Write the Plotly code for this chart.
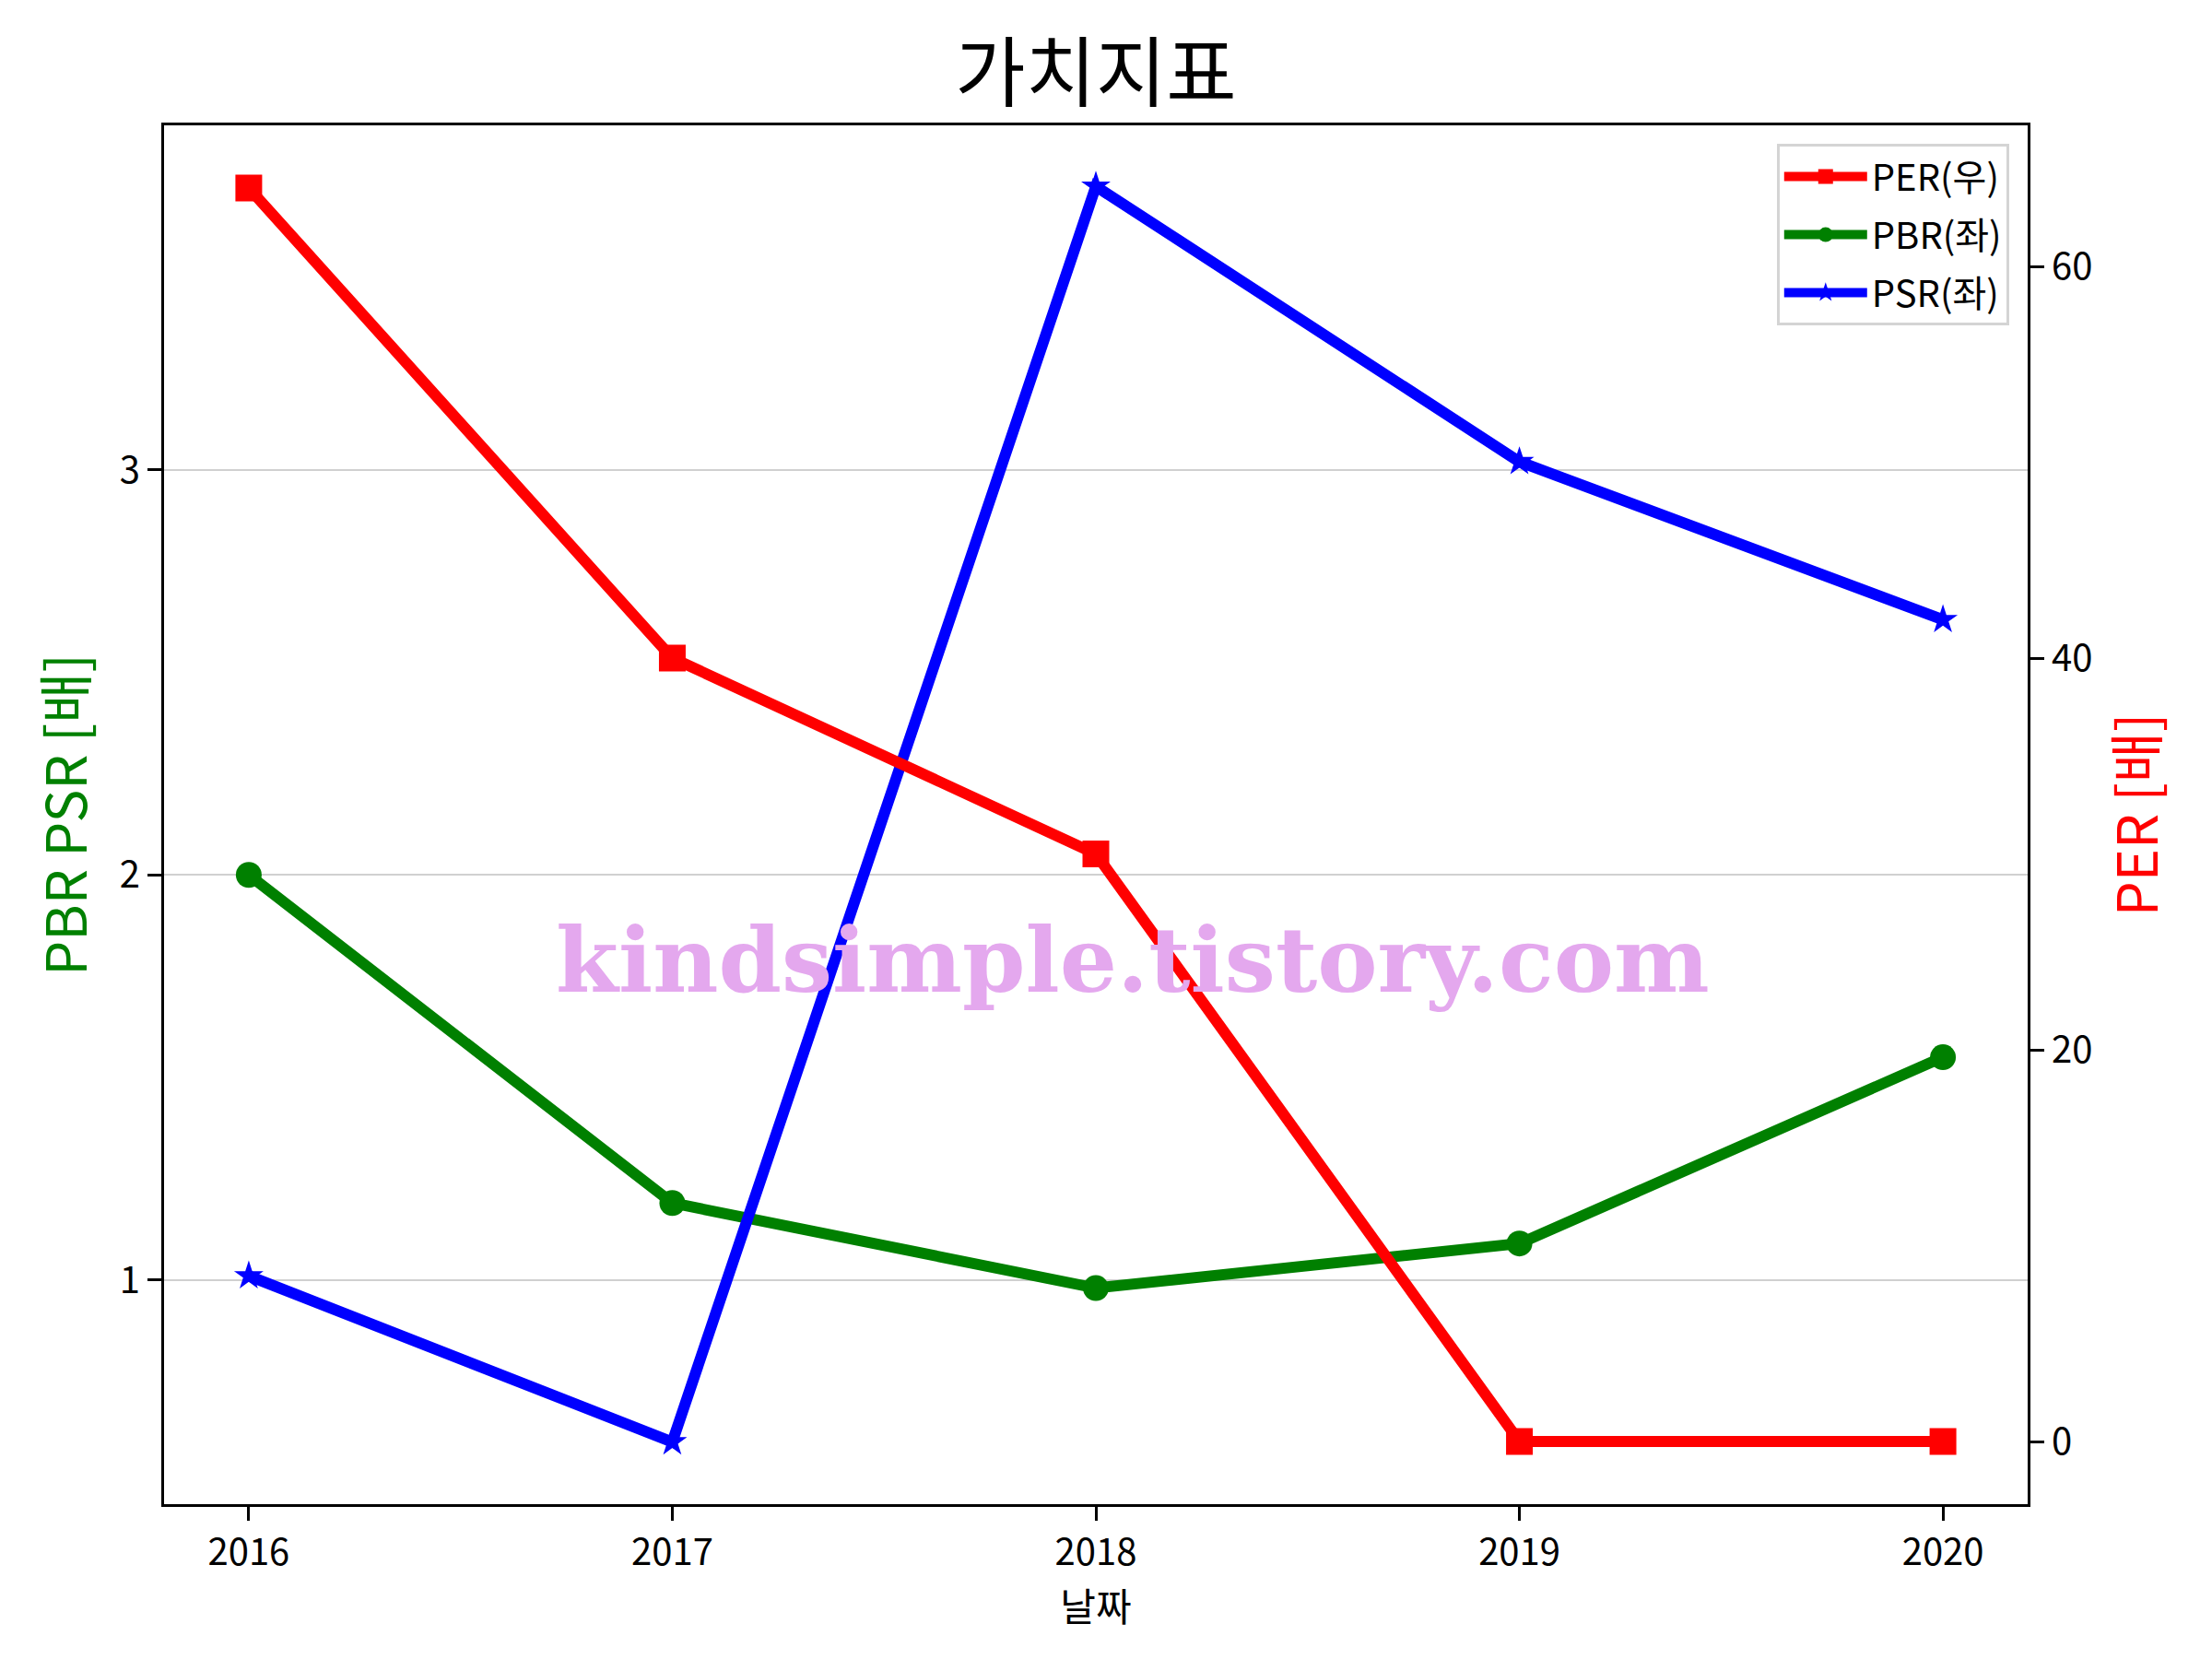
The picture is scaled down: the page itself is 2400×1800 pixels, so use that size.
import plotly.graph_objects as go

years = [2016, 2017, 2018, 2019, 2020]
per = [64.0, 40.0, 30.0, 0.0, 0.0]
pbr = [2.0, 1.19, 0.98, 1.09, 1.55]
psr = [1.01, 0.60, 3.70, 3.02, 2.63]

left_ticks = [1, 2, 3]
right_ticks = [0, 20, 40, 60]

FONT = "Noto Sans CJK KR"

fig = go.Figure()
fig.add_trace(go.Scatter(
    x=years, y=per, name="PER(우)", yaxis="y2", mode="lines+markers",
    legendgroup="per",
    line=dict(color="#ff0000", width=12),
    marker=dict(symbol="square", size=29, color="#ff0000"),
))
fig.add_trace(go.Scatter(
    x=years, y=pbr, name="PBR(좌)", mode="lines+markers",
    legendgroup="pbr",
    line=dict(color="#008000", width=12),
    marker=dict(symbol="circle", size=28, color="#008000"),
))
fig.add_trace(go.Scatter(
    x=years, y=psr, name="PSR(좌)", mode="lines+markers",
    legendgroup="psr",
    line=dict(color="#0000ff", width=12),
    marker=dict(symbol="star", size=24, color="#0000ff"),
))

axis_common = dict(
    showline=True, linecolor="black", linewidth=3,
    ticks="outside", ticklen=15, tickwidth=3, tickcolor="black",
    tickfont=dict(family=FONT, size=40, color="black"),
    zeroline=False,
)

fig.update_layout(
    width=2400, height=1800,
    paper_bgcolor="white", plot_bgcolor="white",
    margin=dict(l=170, r=208, t=128, b=176, autoexpand=False),
    font=dict(family=FONT, size=40, color="black"),
    title=dict(text="가치지표", x=0.5, xref="paper", xanchor="center",
               y=1 - 72 / 1800, yref="container", yanchor="middle",
               font=dict(family=FONT, size=83, color="black")),
    xaxis=dict(
        range=[2015.8, 2020.2], tickvals=years, ticktext=[str(y) for y in years],
        mirror=True, showgrid=False,
        title=dict(text="날짜", font=dict(family=FONT, size=42, color="black"), standoff=4),
        **axis_common,
    ),
    yaxis=dict(
        range=[0.4465, 3.8505], tickvals=left_ticks, ticktext=[str(v) for v in left_ticks],
        showgrid=True, gridcolor="#d0d0d0", gridwidth=2,
        title=dict(text="PBR PSR [배]", font=dict(family=FONT, size=60, color="#008000"), standoff=16),
        **axis_common,
    ),
    yaxis2=dict(
        range=[-3.2, 67.2], tickvals=right_ticks, ticktext=[str(v) for v in right_ticks],
        overlaying="y", side="right", showgrid=False,
        title=dict(text="PER [배]", font=dict(family=FONT, size=60, color="#ff0000"), standoff=30),
        **axis_common,
    ),
    legend=dict(
        x=0.990, y=0.9866, xanchor="right", yanchor="top",
        bgcolor="white", bordercolor="#d4d4d4", borderwidth=3,
        font=dict(family=FONT, size=40, color="black"),
        itemwidth=90, tracegroupgap=8,
    ),
    showlegend=True,
)

fig.add_annotation(
    text="<b>kindsimple.tistory.com</b>", x=0.52, y=0.395, xref="paper", yref="paper",
    xanchor="center", yanchor="middle", showarrow=False,
    font=dict(family="DejaVu Serif", size=98, color="#e4a8ee"),
)

fig.write_html("out.html")
